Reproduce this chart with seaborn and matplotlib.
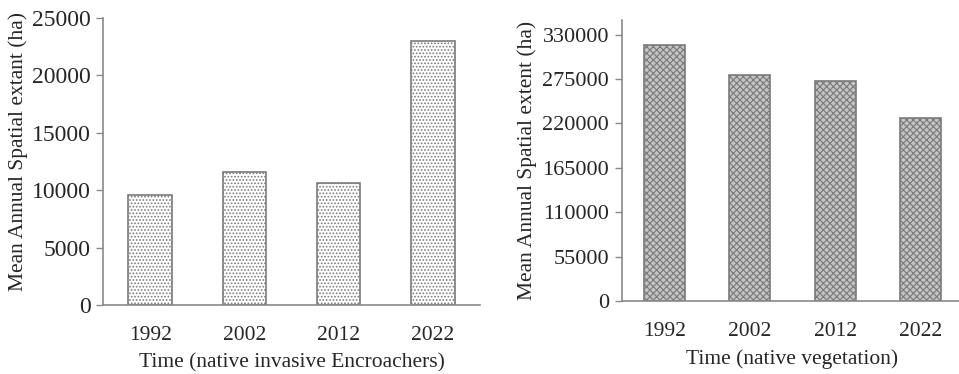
import matplotlib
matplotlib.use("Agg")
import matplotlib.pyplot as plt
import seaborn as sns
import pandas as pd
from matplotlib.ticker import FixedLocator

years = ["1992", "2002", "2012", "2022"]
encroachers = [9600, 11600, 10600, 23000]
vegetation = [317000, 280500, 272000, 226500]
left_ticks = [0, 5000, 10000, 15000, 20000, 25000]
right_ticks = [0, 55000, 110000, 165000, 220000, 275000, 330000]

sns.set_style("white")
plt.rcParams['font.family'] = ['Liberation Serif', 'DejaVu Serif']
plt.rcParams['hatch.linewidth'] = 0.8

fig = plt.figure(figsize=(9.59, 3.74), dpi=100)
ax1 = fig.add_axes([103/959, 1-305/374, 377/959, 287/374])
ax2 = fig.add_axes([621.5/959, 1-301/374, 342/959, 281/374])

axis_col = '#8a8a8a'

def style(ax, ticks, ymax, xlabel, ylabel, face, hatch, hatchcol, width, ysize, xpad, lpad, ylc):
    ax.set_ylim(0, ymax)
    ax.set_xlim(-0.5, 3.5)
    ax.set_yticks(ticks)
    ax.set_yticklabels([str(t) for t in ticks])
    ax.xaxis.set_minor_locator(FixedLocator([-0.5, 0.5, 1.5, 2.5, 3.5]))
    ax.tick_params(axis='x', which='major', length=0, pad=xpad, labelsize=15.5)
    ax.tick_params(axis='x', which='minor', length=6, width=1, color=axis_col, direction='out')
    ax.tick_params(axis='y', length=5, width=1, color=axis_col, direction='out', pad=4, labelsize=ysize, left=True)
    for s in ['top', 'right']:
        ax.spines[s].set_visible(False)
    for s in ['left', 'bottom']:
        ax.spines[s].set_color(axis_col)
        ax.spines[s].set_linewidth(1.2)
    ax.set_xlabel(xlabel, fontsize=15.5, labelpad=lpad)
    ax.set_ylabel(ylabel, fontsize=15.5)
    ax.yaxis.set_label_coords(*ylc)
    for p in ax.patches:
        p.set_facecolor(face)
        p.set_hatch(hatch)
        p._hatch_color = matplotlib.colors.to_rgba(hatchcol)
        p.set_edgecolor('#7a7a7a')
        p.set_linewidth(1.2)
        x = p.get_x() + p.get_width() / 2
        p.set_width(width)
        p.set_x(x - width / 2)

df1 = pd.DataFrame({"year": years, "value": encroachers})
df2 = pd.DataFrame({"year": years, "value": vegetation})
sns.barplot(data=df1, x="year", y="value", ax=ax1, color='white', width=0.46)
sns.barplot(data=df2, x="year", y="value", ax=ax2, color='gray', width=0.48)

style(ax1, left_ticks, 25000, "Time (native invasive Encroachers)",
      "Mean Annual Spatial extant (ha)", 'white', '.....', '#a0a0a0', 0.46, 17, 15, 6,
      (-0.199, 0.535))
style(ax2, right_ticks, 348000, "Time (native vegetation)",
      "Mean Annual Spatial extent (ha)", '#c4c4c4', 'xxxxx', '#6e6e6e', 0.48, 16, 15, 6,
      (-0.247, 0.5))

fig.savefig("out.png", dpi=100)
